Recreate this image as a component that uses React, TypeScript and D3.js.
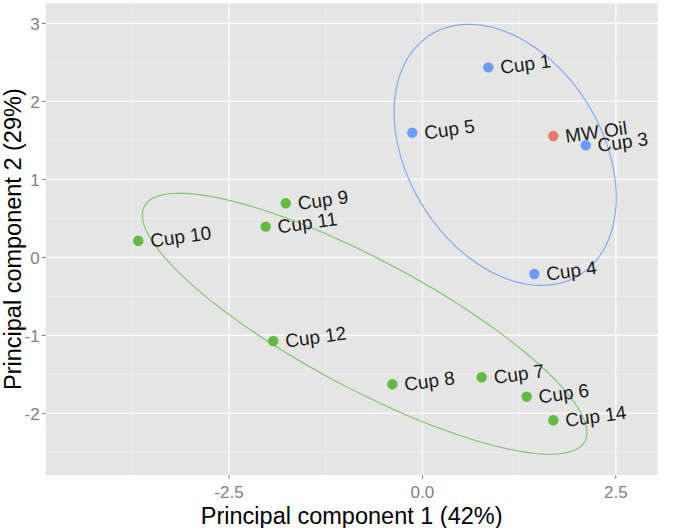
import { useEffect } from "react";
import * as d3 from "d3";

// PCA scores
const labels = ["Cup 1", "Cup 5", "MW Oil", "Cup 3", "Cup 4", "Cup 9", "Cup 11", "Cup 10", "Cup 12", "Cup 8", "Cup 7", "Cup 6", "Cup 14"];
const pc1 = [0.852, -0.131, 1.692, 2.111, 1.447, -1.767, -2.026, -3.673, -1.928, -0.389, 0.767, 1.348, 1.692];
const pc2 = [2.437, 1.599, 1.556, 1.437, -0.213, 0.694, 0.394, 0.214, -1.072, -1.627, -1.537, -1.786, -2.088];
const groups = ["B", "B", "A", "B", "B", "C", "C", "C", "C", "C", "C", "C", "C"];

const groupNames = ["A", "B", "C"];
const pointColors = ["#E8766D", "#6D9CF7", "#64B844"];
const ellipseColors = ["#E8766D", "#7FA3EE", "#7DC26A"];
const ellipseProb = 0.68;

const xTicks = [-2.5, 0, 2.5];
const xMinor = [-3.75, -1.25, 1.25];
const yTicks = [-2, -1, 0, 1, 2, 3];
const yMinor = [-2.5, -1.5, -0.5, 0.5, 1.5, 2.5];

const xTitle = "Principal component 1 (42%)";
const yTitle = "Principal component 2 (29%)";

const W = 677;
const H = 528;
const margin = { top: 3.3, right: 19.3, bottom: 53, left: 45.7 };
const FONT = "'Liberation Sans', Arial, Helvetica, sans-serif";

export default function App() {
  useEffect(() => {
    document.body.style.margin = "0";
  }, []);

  const x = d3.scaleLinear().domain([-4.87, 3.042]).range([margin.left, W - margin.right]);
  const y = d3.scaleLinear().domain([-2.79, 3.258]).range([H - margin.bottom, margin.top]);

  const color = d3.scaleOrdinal<string, string>().domain(groupNames).range(pointColors);
  const ecolor = d3.scaleOrdinal<string, string>().domain(groupNames).range(ellipseColors);

  const points = labels.map((l, i) => ({ label: l, x: pc1[i], y: pc2[i], g: groups[i] }));

  // ggbiplot-style normal ellipses: sample covariance, chol, sqrt(qchisq(p, 2))
  const ed = Math.sqrt(-2 * Math.log(1 - ellipseProb));
  const theta = d3.range(0, 101).map((i) => -Math.PI + (2 * Math.PI * i) / 100);
  const ellipses = groupNames
    .map((g) => {
      const pts = points.filter((p) => p.g === g);
      if (pts.length <= 2) return null;
      const n = pts.length;
      const mx = d3.mean(pts, (p) => p.x)!;
      const my = d3.mean(pts, (p) => p.y)!;
      const sxx = d3.sum(pts, (p) => (p.x - mx) ** 2) / (n - 1);
      const syy = d3.sum(pts, (p) => (p.y - my) ** 2) / (n - 1);
      const sxy = d3.sum(pts, (p) => (p.x - mx) * (p.y - my)) / (n - 1);
      const r11 = Math.sqrt(sxx);
      const r12 = sxy / r11;
      const r22 = Math.sqrt(syy - r12 * r12);
      const path = theta.map((t) => [
        mx + ed * Math.cos(t) * r11,
        my + ed * (Math.cos(t) * r12 + Math.sin(t) * r22),
      ]);
      return { g, path };
    })
    .filter(Boolean) as { g: string; path: number[][] }[];

  const line = d3
    .line<number[]>()
    .x((d) => x(d[0]))
    .y((d) => y(d[1]));

  const pw = W - margin.right - margin.left;
  const ph = H - margin.bottom - margin.top;
  // ggplot prints a plain hyphen for negatives
  const fmtX = (v: number) => v.toFixed(1);

  return (
    <svg width={W} height={H} style={{ display: "block", background: "#fff", fontFamily: FONT }}>
      {/* panel */}
      <rect x={margin.left} y={margin.top} width={pw} height={ph} fill="#E5E5E5" />
      {xMinor.map((v) => (
        <line key={"xm" + v} x1={x(v)} x2={x(v)} y1={margin.top} y2={H - margin.bottom} stroke="#F2F2F2" strokeWidth={0.6} />
      ))}
      {yMinor.map((v) => (
        <line key={"ym" + v} x1={margin.left} x2={W - margin.right} y1={y(v)} y2={y(v)} stroke="#F2F2F2" strokeWidth={0.6} />
      ))}
      {xTicks.map((v) => (
        <line key={"xg" + v} x1={x(v)} x2={x(v)} y1={margin.top} y2={H - margin.bottom} stroke="#fff" strokeWidth={1.2} />
      ))}
      {yTicks.map((v) => (
        <line key={"yg" + v} x1={margin.left} x2={W - margin.right} y1={y(v)} y2={y(v)} stroke="#fff" strokeWidth={1.2} />
      ))}

      {/* ellipses */}
      {ellipses.map((e) => (
        <path key={e.g} d={line(e.path) || ""} fill="none" stroke={ecolor(e.g)} strokeWidth={1.1} />
      ))}

      {/* labels */}
      {points.map((p) => {
        const tx = x(p.x) + 12;
        const ty = y(p.y);
        return (
          <text
            key={"t" + p.label}
            x={tx}
            y={ty}
            dy="0.36em"
            fontSize={19}
            fill="#1a1a1a"
            transform={`rotate(-8, ${tx}, ${ty})`}
          >
            {p.label}
          </text>
        );
      })}

      {/* points */}
      {points.map((p) => (
        <circle key={"c" + p.label} cx={x(p.x)} cy={y(p.y)} r={5.2} fill={color(p.g)} />
      ))}

      {/* axes */}
      {xTicks.map((v) => (
        <g key={"xt" + v}>
          <line x1={x(v)} x2={x(v)} y1={H - margin.bottom} y2={H - margin.bottom + 4} stroke="#7F7F7F" strokeWidth={1} />
          <text x={x(v)} y={498} textAnchor="middle" fontSize={17} fill="#7F7F7F">
            {fmtX(v)}
          </text>
        </g>
      ))}
      {yTicks.map((v) => (
        <g key={"yt" + v}>
          <line x1={margin.left - 4} x2={margin.left} y1={y(v)} y2={y(v)} stroke="#7F7F7F" strokeWidth={1} />
          <text x={margin.left - 6} y={y(v)} dy="0.36em" textAnchor="end" fontSize={17} fill="#7F7F7F">
            {String(v)}
          </text>
        </g>
      ))}

      <text x={margin.left + pw / 2} y={524} textAnchor="middle" fontSize={23.5} fill="#000">
        {xTitle}
      </text>
      <text
        transform={`translate(21, ${margin.top + ph / 2}) rotate(-90)`}
        textAnchor="middle"
        fontSize={23.5}
        fill="#000"
      >
        {yTitle}
      </text>
    </svg>
  );
}
